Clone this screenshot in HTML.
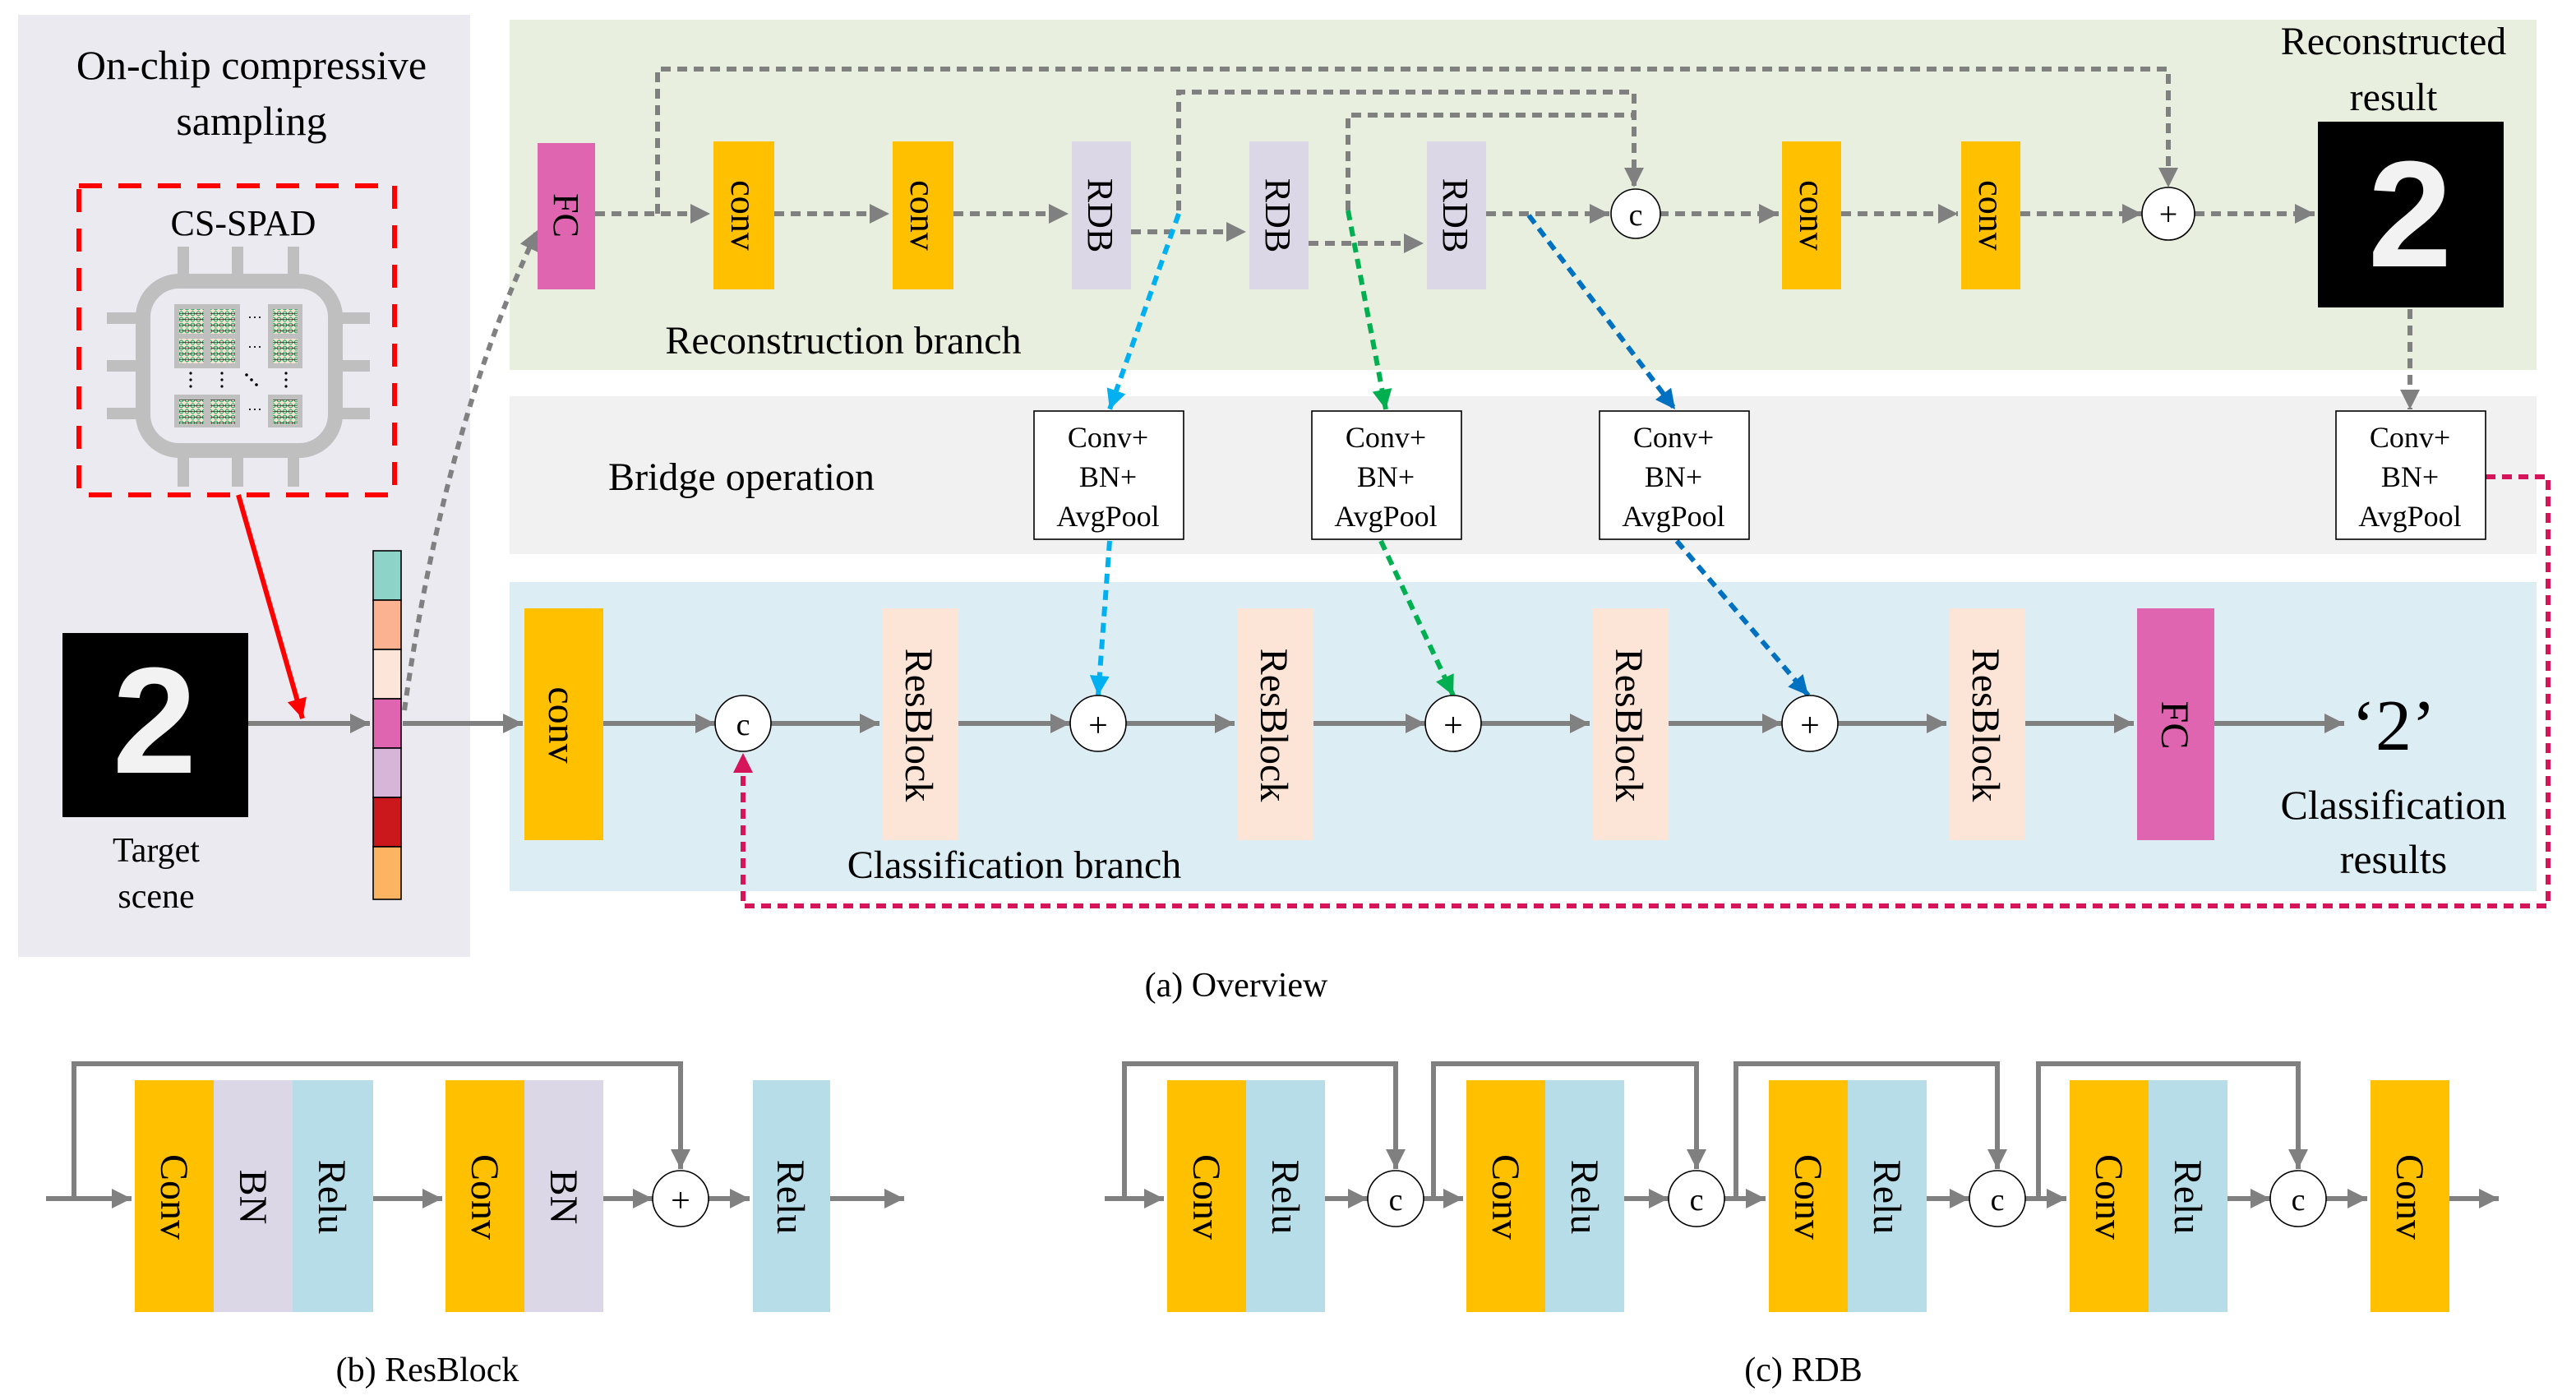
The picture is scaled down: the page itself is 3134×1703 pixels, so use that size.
<!DOCTYPE html>
<html><head><meta charset="utf-8"><style>
html,body{margin:0;padding:0;background:#fff;}
svg{display:block;}
text{font-family:"Liberation Serif",serif;fill:#000;}
text.dig{font-family:"Liberation Sans",sans-serif;font-weight:bold;fill:#F2F2F2;}
</style></head><body>
<svg width="3134" height="1703" viewBox="0 0 1567 851.5" xmlns="http://www.w3.org/2000/svg">
<defs>
<marker id="agb" viewBox="0 0 10 10" refX="10" refY="5" markerWidth="16" markerHeight="12" orient="auto" markerUnits="userSpaceOnUse"><path d="M0,0L10,5L0,10z" fill="#808080"/></marker>
<marker id="ac" viewBox="0 0 10 10" refX="10" refY="5" markerWidth="16" markerHeight="12" orient="auto" markerUnits="userSpaceOnUse"><path d="M0,0L10,5L0,10z" fill="#00B0F0"/></marker>
<marker id="agr" viewBox="0 0 10 10" refX="10" refY="5" markerWidth="16" markerHeight="12" orient="auto" markerUnits="userSpaceOnUse"><path d="M0,0L10,5L0,10z" fill="#00B050"/></marker>
<marker id="abl" viewBox="0 0 10 10" refX="10" refY="5" markerWidth="16" markerHeight="12" orient="auto" markerUnits="userSpaceOnUse"><path d="M0,0L10,5L0,10z" fill="#0070C0"/></marker>
<marker id="ar" viewBox="0 0 10 10" refX="10" refY="5" markerWidth="16" markerHeight="12" orient="auto" markerUnits="userSpaceOnUse"><path d="M0,0L10,5L0,10z" fill="#FF0000"/></marker>
<marker id="am" viewBox="0 0 10 10" refX="10" refY="5" markerWidth="16" markerHeight="12" orient="auto" markerUnits="userSpaceOnUse"><path d="M0,0L10,5L0,10z" fill="#D6145A"/></marker>
<pattern id="spad" width="3.5" height="3.5" patternUnits="userSpaceOnUse"><rect width="3.5" height="3.5" fill="#F9E1D3"/><circle cx="1.75" cy="1.75" r="1.2" fill="none" stroke="#00A050" stroke-width="0.5"/><line x1="0" y1="1.75" x2="3.5" y2="1.75" stroke="#000" stroke-width="0.3"/></pattern>
</defs>

<rect x="11" y="9" width="275" height="573" fill="#ECEAF1"/>
<rect x="310" y="12" width="1233" height="213" fill="#E9EFDF"/>
<rect x="310" y="241" width="1233" height="96" fill="#F1F1F1"/>
<rect x="310" y="354" width="1233" height="188" fill="#DCEDF3"/>

<text x="153" y="48" font-size="25" text-anchor="middle">On-chip compressive</text>
<text x="153" y="82" font-size="25" text-anchor="middle">sampling</text>

<rect x="48" y="113" width="192" height="188" fill="none" stroke="#FF0000" stroke-width="3" stroke-dasharray="14,10"/>
<text x="148" y="143" font-size="22" text-anchor="middle">CS-SPAD</text>
<g fill="#BFBFBF">
<rect x="108" y="150" width="7" height="20"/><rect x="141" y="150" width="7" height="20"/><rect x="175" y="150" width="7" height="20"/>
<rect x="108" y="276" width="7" height="20"/><rect x="141" y="276" width="7" height="20"/><rect x="175" y="276" width="7" height="20"/>
<rect x="65" y="190" width="20" height="7"/><rect x="65" y="219" width="20" height="7"/><rect x="65" y="248" width="20" height="7"/>
<rect x="205" y="190" width="20" height="7"/><rect x="205" y="219" width="20" height="7"/><rect x="205" y="248" width="20" height="7"/>
</g>
<rect x="87" y="171" width="117" height="103" rx="22" fill="#ECEAF1" stroke="#BFBFBF" stroke-width="9"/>
<g fill="#BFBFBF">
<rect x="106" y="185" width="40" height="39"/><rect x="163" y="185" width="21" height="39"/>
<rect x="106" y="240" width="40" height="20"/><rect x="163" y="240" width="21" height="20"/>
</g>
<g fill="url(#spad)">
<rect x="109" y="188" width="15" height="15"/><rect x="128" y="188" width="15" height="15"/><rect x="166" y="188" width="15" height="15"/>
<rect x="109" y="206" width="15" height="15"/><rect x="128" y="206" width="15" height="15"/><rect x="166" y="206" width="15" height="15"/>
<rect x="109" y="243" width="15" height="15"/><rect x="128" y="243" width="15" height="15"/><rect x="166" y="243" width="15" height="15"/>
</g>
<g font-size="9" text-anchor="middle"><text x="155" y="196">···</text><text x="155" y="214">···</text><text x="155" y="252">···</text></g>
<g fill="#000"><circle cx="116" cy="227" r="0.8"/><circle cx="116" cy="231" r="0.8"/><circle cx="116" cy="235" r="0.8"/>
<circle cx="135" cy="227" r="0.8"/><circle cx="135" cy="231" r="0.8"/><circle cx="135" cy="235" r="0.8"/>
<circle cx="174" cy="227" r="0.8"/><circle cx="174" cy="231" r="0.8"/><circle cx="174" cy="235" r="0.8"/>
<circle cx="150" cy="228" r="0.9"/><circle cx="153" cy="231" r="0.9"/><circle cx="156" cy="234" r="0.9"/></g>

<line x1="145" y1="301" x2="184" y2="437" stroke="#FF0000" stroke-width="3" marker-end="url(#ar)"/>

<rect x="38" y="385" width="113" height="112" fill="#000"/>
<text class="dig" x="94" y="470" font-size="92" text-anchor="middle">2</text>
<text x="95" y="524" font-size="21" text-anchor="middle">Target</text>
<text x="95" y="552" font-size="21" text-anchor="middle">scene</text>

<line x1="151" y1="440" x2="225" y2="440" stroke="#808080" stroke-width="3" marker-end="url(#agb)"/>

<g stroke="#000" stroke-width="0.8">
<rect x="227" y="335" width="17" height="30" fill="#8DD3C7"/>
<rect x="227" y="365" width="17" height="30" fill="#FBB291"/>
<rect x="227" y="395" width="17" height="30" fill="#FDE5DA"/>
<rect x="227" y="425" width="17" height="30" fill="#DF65B0"/>
<rect x="227" y="455" width="17" height="30" fill="#D7B5D8"/>
<rect x="227" y="485" width="17" height="30" fill="#CB181D"/>
<rect x="227" y="515" width="17" height="32" fill="#FDB462"/>
</g>
<line x1="245" y1="440" x2="318" y2="440" stroke="#808080" stroke-width="3" marker-end="url(#agb)"/>
<path d="M246,432 Q270,260 327,140" fill="none" stroke="#808080" stroke-width="3" stroke-dasharray="5,4" marker-end="url(#agb)"/>

<g font-size="22">
<rect x="327" y="87" width="35" height="89" fill="#DF65B0"/>
<rect x="434" y="86" width="37" height="90" fill="#FFC000"/>
<rect x="543" y="86" width="37" height="90" fill="#FFC000"/>
<rect x="652" y="86" width="36" height="90" fill="#DCD7E7"/>
<rect x="760" y="86" width="36" height="90" fill="#DCD7E7"/>
<rect x="868" y="86" width="36" height="90" fill="#DCD7E7"/>
<rect x="1084" y="86" width="36" height="90" fill="#FFC000"/>
<rect x="1193" y="86" width="36" height="90" fill="#FFC000"/>
<text transform="translate(337,131) rotate(90)" text-anchor="middle">FC</text>
<text transform="translate(445,131) rotate(90)" text-anchor="middle">conv</text>
<text transform="translate(554,131) rotate(90)" text-anchor="middle">conv</text>
<text transform="translate(662,131) rotate(90)" text-anchor="middle">RDB</text>
<text transform="translate(770,131) rotate(90)" text-anchor="middle">RDB</text>
<text transform="translate(878,131) rotate(90)" text-anchor="middle">RDB</text>
<text transform="translate(1095,131) rotate(90)" text-anchor="middle">conv</text>
<text transform="translate(1204,131) rotate(90)" text-anchor="middle">conv</text>
</g>
<g fill="none" stroke="#808080" stroke-width="3" stroke-dasharray="6,4">
<line x1="362" y1="130" x2="432" y2="130" marker-end="url(#agb)"/>
<line x1="471" y1="130" x2="541" y2="130" marker-end="url(#agb)"/>
<line x1="580" y1="130" x2="650" y2="130" marker-end="url(#agb)"/>
<line x1="688" y1="141" x2="758" y2="141" marker-end="url(#agb)"/>
<line x1="796" y1="148" x2="866" y2="148" marker-end="url(#agb)"/>
<line x1="904" y1="130" x2="979" y2="130" marker-end="url(#agb)"/>
<line x1="1009" y1="130" x2="1082" y2="130" marker-end="url(#agb)"/>
<line x1="1120" y1="130" x2="1191" y2="130" marker-end="url(#agb)"/>
<line x1="1229" y1="130" x2="1303" y2="130" marker-end="url(#agb)"/>
<line x1="1335" y1="130" x2="1408" y2="130" marker-end="url(#agb)"/>
<path d="M400,130 V42 H1319 V114" marker-end="url(#agb)"/>
<path d="M717,128 V56 H994 V114" marker-end="url(#agb)"/>
<path d="M820,128 V70 H994"/>
<line x1="1466" y1="188" x2="1466" y2="249" marker-end="url(#agb)"/>
</g>
<circle cx="995" cy="130" r="15" fill="#fff" stroke="#000" stroke-width="0.8"/>
<text x="995" y="137" font-size="19" text-anchor="middle">c</text>
<circle cx="1319" cy="130" r="16" fill="#fff" stroke="#000" stroke-width="0.8"/>
<text x="1319" y="137" font-size="20" text-anchor="middle">+</text>
<text x="513" y="215" font-size="24" text-anchor="middle">Reconstruction branch</text>

<text x="1456" y="33" font-size="24" text-anchor="middle">Reconstructed</text>
<text x="1456" y="67" font-size="24" text-anchor="middle">result</text>
<rect x="1410" y="74" width="113" height="113" fill="#000"/>
<text class="dig" x="1466" y="162" font-size="92" text-anchor="middle">2</text>

<g fill="none" stroke-width="3" stroke-dasharray="6,4">
<line x1="717" y1="130" x2="675" y2="249" stroke="#00B0F0" marker-end="url(#ac)"/>
<line x1="820" y1="128" x2="843" y2="249" stroke="#00B050" marker-end="url(#agr)"/>
<line x1="930" y1="131" x2="1019" y2="249" stroke="#0070C0" marker-end="url(#abl)"/>
<line x1="675" y1="329" x2="668" y2="423" stroke="#00B0F0" marker-end="url(#ac)"/>
<line x1="840" y1="329" x2="884" y2="423" stroke="#00B050" marker-end="url(#agr)"/>
<line x1="1020" y1="329" x2="1100" y2="423" stroke="#0070C0" marker-end="url(#abl)"/>
<path d="M1512,290 H1550 V551 H452 V458" stroke="#D6145A" marker-end="url(#am)"/>
</g>

<text x="451" y="298" font-size="24" text-anchor="middle">Bridge operation</text>
<g font-size="18" text-anchor="middle">
<rect x="629" y="250" width="91" height="78" fill="#fff" stroke="#000" stroke-width="0.8"/>
<text x="674" y="272">Conv+</text><text x="674" y="296">BN+</text><text x="674" y="320">AvgPool</text>
<rect x="798" y="250" width="91" height="78" fill="#fff" stroke="#000" stroke-width="0.8"/>
<text x="843" y="272">Conv+</text><text x="843" y="296">BN+</text><text x="843" y="320">AvgPool</text>
<rect x="973" y="250" width="91" height="78" fill="#fff" stroke="#000" stroke-width="0.8"/>
<text x="1018" y="272">Conv+</text><text x="1018" y="296">BN+</text><text x="1018" y="320">AvgPool</text>
<rect x="1421" y="250" width="91" height="78" fill="#fff" stroke="#000" stroke-width="0.8"/>
<text x="1466" y="272">Conv+</text><text x="1466" y="296">BN+</text><text x="1466" y="320">AvgPool</text>
</g>

<g font-size="24">
<rect x="319" y="370" width="48" height="141" fill="#FFC000"/>
<rect x="537" y="370" width="46" height="141" fill="#FCE4D6"/>
<rect x="753" y="370" width="46" height="141" fill="#FCE4D6"/>
<rect x="969" y="370" width="46" height="141" fill="#FCE4D6"/>
<rect x="1186" y="370" width="46" height="141" fill="#FCE4D6"/>
<rect x="1300" y="370" width="47" height="141" fill="#DF65B0"/>
<text transform="translate(334,441) rotate(90)" text-anchor="middle">conv</text>
<text transform="translate(551,441) rotate(90)" text-anchor="middle">ResBlock</text>
<text transform="translate(767,441) rotate(90)" text-anchor="middle">ResBlock</text>
<text transform="translate(983,441) rotate(90)" text-anchor="middle">ResBlock</text>
<text transform="translate(1200,441) rotate(90)" text-anchor="middle">ResBlock</text>
<text transform="translate(1315,441) rotate(90)" text-anchor="middle">FC</text>
</g>
<g stroke="#808080" stroke-width="3">
<line x1="367" y1="440" x2="435" y2="440" marker-end="url(#agb)"/>
<line x1="469" y1="440" x2="535" y2="440" marker-end="url(#agb)"/>
<line x1="583" y1="440" x2="651" y2="440" marker-end="url(#agb)"/>
<line x1="685" y1="440" x2="751" y2="440" marker-end="url(#agb)"/>
<line x1="799" y1="440" x2="867" y2="440" marker-end="url(#agb)"/>
<line x1="901" y1="440" x2="967" y2="440" marker-end="url(#agb)"/>
<line x1="1015" y1="440" x2="1084" y2="440" marker-end="url(#agb)"/>
<line x1="1118" y1="440" x2="1184" y2="440" marker-end="url(#agb)"/>
<line x1="1232" y1="440" x2="1298" y2="440" marker-end="url(#agb)"/>
<line x1="1347" y1="440" x2="1426" y2="440" marker-end="url(#agb)"/>
</g>
<g stroke="#000" stroke-width="0.8" fill="#fff">
<circle cx="452" cy="440" r="17"/><circle cx="668" cy="440" r="17"/><circle cx="884" cy="440" r="17"/><circle cx="1101" cy="440" r="17"/>
</g>
<text x="452" y="447" font-size="19" text-anchor="middle">c</text>
<text x="668" y="448" font-size="21" text-anchor="middle">+</text>
<text x="884" y="448" font-size="21" text-anchor="middle">+</text>
<text x="1101" y="448" font-size="21" text-anchor="middle">+</text>
<text x="1456" y="456" font-size="44" text-anchor="middle">‘2’</text>
<text x="1456" y="498" font-size="25" text-anchor="middle">Classification</text>
<text x="1456" y="531" font-size="25" text-anchor="middle">results</text>
<text x="617" y="534" font-size="24" text-anchor="middle">Classification branch</text>

<text x="752" y="606" font-size="21" text-anchor="middle">(a) Overview</text>

<g font-size="24">
<rect x="82" y="657" width="48" height="141" fill="#FFC000"/>
<rect x="130" y="657" width="48" height="141" fill="#DCD7E7"/>
<rect x="178" y="657" width="49" height="141" fill="#B7DDE8"/>
<rect x="271" y="657" width="48" height="141" fill="#FFC000"/>
<rect x="319" y="657" width="48" height="141" fill="#DCD7E7"/>
<rect x="458" y="657" width="47" height="141" fill="#B7DDE8"/>
<text transform="translate(98,728) rotate(90)" text-anchor="middle">Conv</text>
<text transform="translate(146,728) rotate(90)" text-anchor="middle">BN</text>
<text transform="translate(194,728) rotate(90)" text-anchor="middle">Relu</text>
<text transform="translate(287,728) rotate(90)" text-anchor="middle">Conv</text>
<text transform="translate(335,728) rotate(90)" text-anchor="middle">BN</text>
<text transform="translate(473,728) rotate(90)" text-anchor="middle">Relu</text>
</g>
<g stroke="#808080" stroke-width="3" fill="none">
<line x1="28" y1="729" x2="80" y2="729" marker-end="url(#agb)"/>
<line x1="227" y1="729" x2="269" y2="729" marker-end="url(#agb)"/>
<line x1="367" y1="729" x2="397" y2="729" marker-end="url(#agb)"/>
<line x1="431" y1="729" x2="456" y2="729" marker-end="url(#agb)"/>
<line x1="505" y1="729" x2="550" y2="729" marker-end="url(#agb)"/>
<path d="M45,729 V647 H414 V711" marker-end="url(#agb)"/>
</g>
<circle cx="414" cy="729" r="17" fill="#fff" stroke="#000" stroke-width="0.8"/>
<text x="414" y="737" font-size="21" text-anchor="middle">+</text>
<text x="260" y="840" font-size="21" text-anchor="middle">(b) ResBlock</text>

<g font-size="24">
<rect x="710" y="657" width="48" height="141" fill="#FFC000"/><rect x="758" y="657" width="48" height="141" fill="#B7DDE8"/>
<rect x="892" y="657" width="48" height="141" fill="#FFC000"/><rect x="940" y="657" width="48" height="141" fill="#B7DDE8"/>
<rect x="1076" y="657" width="48" height="141" fill="#FFC000"/><rect x="1124" y="657" width="48" height="141" fill="#B7DDE8"/>
<rect x="1259" y="657" width="48" height="141" fill="#FFC000"/><rect x="1307" y="657" width="48" height="141" fill="#B7DDE8"/>
<rect x="1442" y="657" width="48" height="141" fill="#FFC000"/>
<text transform="translate(726,728) rotate(90)" text-anchor="middle">Conv</text>
<text transform="translate(774,728) rotate(90)" text-anchor="middle">Relu</text>
<text transform="translate(908,728) rotate(90)" text-anchor="middle">Conv</text>
<text transform="translate(956,728) rotate(90)" text-anchor="middle">Relu</text>
<text transform="translate(1092,728) rotate(90)" text-anchor="middle">Conv</text>
<text transform="translate(1140,728) rotate(90)" text-anchor="middle">Relu</text>
<text transform="translate(1275,728) rotate(90)" text-anchor="middle">Conv</text>
<text transform="translate(1323,728) rotate(90)" text-anchor="middle">Relu</text>
<text transform="translate(1458,728) rotate(90)" text-anchor="middle">Conv</text>
</g>
<g stroke="#808080" stroke-width="3" fill="none">
<line x1="672" y1="729" x2="708" y2="729" marker-end="url(#agb)"/>
<line x1="806" y1="729" x2="832" y2="729" marker-end="url(#agb)"/>
<line x1="866" y1="729" x2="890" y2="729" marker-end="url(#agb)"/>
<line x1="988" y1="729" x2="1015" y2="729" marker-end="url(#agb)"/>
<line x1="1049" y1="729" x2="1074" y2="729" marker-end="url(#agb)"/>
<line x1="1172" y1="729" x2="1198" y2="729" marker-end="url(#agb)"/>
<line x1="1232" y1="729" x2="1257" y2="729" marker-end="url(#agb)"/>
<line x1="1355" y1="729" x2="1381" y2="729" marker-end="url(#agb)"/>
<line x1="1415" y1="729" x2="1440" y2="729" marker-end="url(#agb)"/>
<line x1="1490" y1="729" x2="1520" y2="729" marker-end="url(#agb)"/>
<path d="M684,729 V647 H849 V711" marker-end="url(#agb)"/>
<path d="M872,729 V647 H1032 V711" marker-end="url(#agb)"/>
<path d="M1056,729 V647 H1215 V711" marker-end="url(#agb)"/>
<path d="M1240,729 V647 H1398 V711" marker-end="url(#agb)"/>
</g>
<g stroke="#000" stroke-width="0.8" fill="#fff">
<circle cx="849" cy="729" r="17"/><circle cx="1032" cy="729" r="17"/><circle cx="1215" cy="729" r="17"/><circle cx="1398" cy="729" r="17"/>
</g>
<g font-size="19" text-anchor="middle">
<text x="849" y="736">c</text><text x="1032" y="736">c</text><text x="1215" y="736">c</text><text x="1398" y="736">c</text>
</g>
<text x="1097" y="840" font-size="21" text-anchor="middle">(c) RDB</text>
</svg>
</body></html>
